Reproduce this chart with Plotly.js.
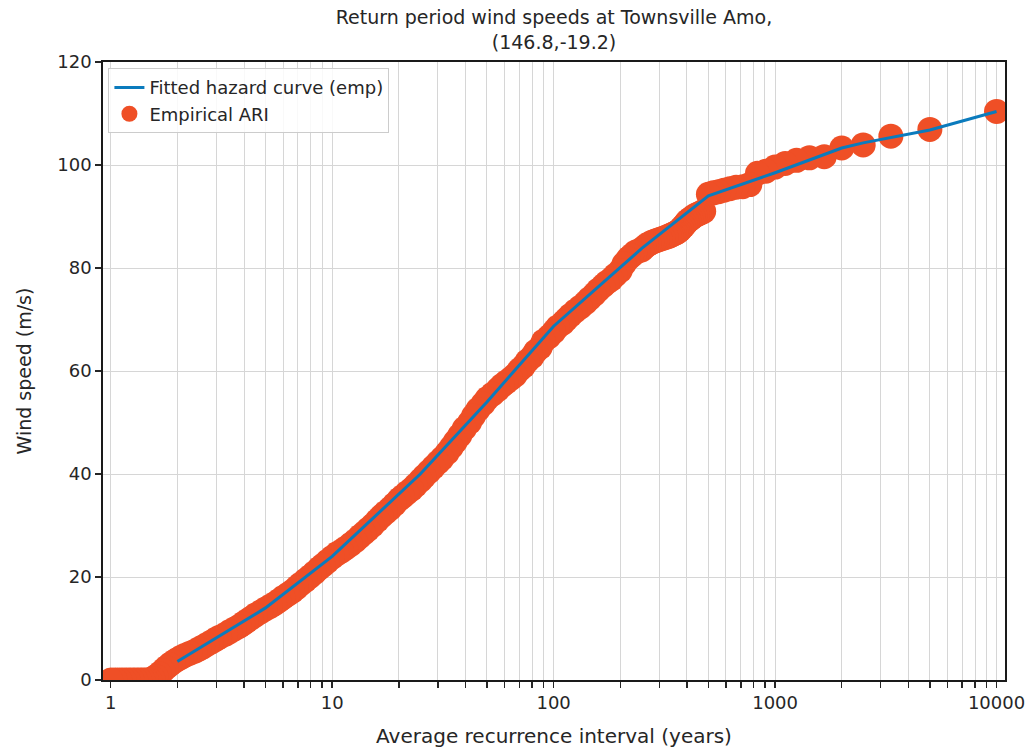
<!DOCTYPE html>
<html>
<head>
<meta charset="utf-8">
<script src="https://cdn.plot.ly/plotly-3.0.1.min.js"></script>
<style>html,body{margin:0;padding:0;background:#fff;}#chart{width:1035px;height:755px;}</style>
</head>
<body>
<div id="chart"></div>
<script>
// Fitted hazard curve (return period in years, wind speed m/s)
const fitARI = [2, 5, 10, 20, 25, 50, 100, 200, 250, 500, 1000, 2000, 2500, 5000, 10000];
const fitSpeed = [3.6, 14.0, 24.0, 36.0, 40.0, 54.0, 68.7, 80.1, 83.8, 94.0, 98.5, 103.3, 104.3, 106.8, 110.4];

// Empirical ARI points
const empARI = [10000, 5000, 3333, 2500, 2000, 1667, 1429, 1250, 1111, 1000, 909, 833, 769, 714, 667, 625, 588, 556, 526, 500,
  476, 465, 455, 445, 435, 426, 417, 408, 400, 392, 385, 377, 370, 363, 357, 351, 345, 339, 333, 323, 313, 303, 294, 286, 278,
  270, 263, 256, 250, 241, 233, 225, 217, 208, 200, 190, 182, 174, 167, 159, 152, 145, 139, 132, 125, 119, 114, 110, 104, 100,
  95, 90, 87, 83, 80, 76, 73, 70, 67, 64, 61, 58.5, 56, 53, 50, 48, 45.5, 43.5, 41.7, 39.5, 37.7, 36, 34.5, 33, 31.3, 30,
  28.6, 27.3, 26, 25, 23.8, 22.8, 21.7, 20.8, 20, 19.1, 18.2, 17.4, 16.7, 16, 15.2, 14.5, 13.9, 13.3, 12.7, 12.1, 11.5, 11,
  10.5, 10, 9.5, 9.1, 8.7, 8.3, 7.9, 7.55, 7.2, 6.9, 6.6, 6.3, 6.0, 5.75, 5.5, 5.25, 5.0, 4.75, 4.5, 4.3, 4.1, 3.95, 3.8,
  3.62, 3.45, 3.3, 3.1, 2.98, 2.85, 2.72, 2.6, 2.5, 2.4, 2.28, 2.17, 2.08, 2.0, 1.92, 1.85, 1.78, 1.72,
  1.66, 1.6, 1.55, 1.5, 1.45, 1.4, 1.35, 1.3, 1.25, 1.2, 1.15, 1.1, 1.05, 1.0];
const empSpeed = [110.4, 106.9, 105.6, 103.9, 103.3, 101.6, 101.4, 100.9, 100.3, 99.6, 98.8, 98.4, 96.2, 95.8, 95.7, 95.4, 95.1, 94.8, 94.6, 94.3,
  91.0, 90.8, 90.6, 90.4, 90.2, 89.9, 89.6, 89.3, 89.0, 88.5, 88.1, 87.7, 87.3, 87.0, 86.8, 86.7, 86.5, 86.4, 86.2, 86.0, 85.8, 85.6, 85.4, 85.2, 85.0,
  84.7, 84.4, 84.0, 83.5, 83.3, 83.0, 82.4, 81.8, 80.8, 79.5, 78.6, 77.8, 77.2, 76.5, 75.7, 74.8, 74.0, 73.2, 72.4, 71.6, 70.8, 70.0, 69.3, 68.5, 67.6,
  66.6, 65.8, 64.6, 63.8, 62.8, 61.9, 60.9, 60.2, 59.2, 58.5, 57.8, 57.2, 56.4, 55.5, 54.6, 53.6, 52.5, 51.3, 50.0, 48.8, 47.5, 46.3, 45.2, 44.1, 43.0, 42.2,
  41.3, 40.4, 39.5, 38.7, 37.8, 37.0, 36.3, 35.6, 35.0, 34.1, 33.2, 32.5, 31.8, 31.0, 30.0, 29.2, 28.5, 27.8, 27.0, 26.3, 25.6, 25.0,
  24.5, 23.8, 23.0, 22.3, 21.6, 20.8, 20.0, 19.3, 18.6, 17.9, 17.2, 16.6, 16.0, 15.4, 14.8, 14.3, 13.8, 13.2, 12.6, 12.0, 11.4, 10.9, 10.4,
  9.9, 9.4, 8.9, 8.3, 7.9, 7.4, 6.9, 6.4, 6.0, 5.6, 5.2, 4.8, 4.4, 4.0, 3.5, 3.0, 2.4, 1.8,
  1.2, 0.7, 0.3, 0, 0, 0, 0, 0, 0, 0, 0, 0, 0, 0];

// Axis ticks
const xMajor = [1, 10, 100, 1000, 10000];
const xMajorText = ['1', '10', '100', '1000', '10000'];
const yTicks = [0, 20, 40, 60, 80, 100, 120];

const tickVals = [];
const tickText = [];
xMajor.forEach((d, i) => {
  for (let m = 1; m <= 9; m++) {
    const v = d * m;
    if (v > 10000) break;
    tickVals.push(v);
    tickText.push(m === 1 ? xMajorText[i] : '');
  }
});

const font = "DejaVu Sans, Verdana, sans-serif";
const textColor = '#262626';

const traces = [
  {
    x: empARI, y: empSpeed, type: 'scatter', mode: 'markers', name: 'Empirical ARI',
    marker: {color: '#ef4f26', size: 25, line: {width: 0}}
  },
  {
    x: fitARI, y: fitSpeed, type: 'scatter', mode: 'lines', name: 'Fitted hazard curve (emp)',
    line: {color: '#0b7bbd', width: 3}
  }
];

const layout = {
  width: 1035, height: 755,
  paper_bgcolor: '#ffffff', plot_bgcolor: '#ffffff',
  margin: {l: 103, r: 30, t: 62, b: 75},
  font: {family: font, color: textColor, size: 18},
  title: {
    text: 'Return period wind speeds at Townsville Amo,<br>(146.8,-19.2)',
    font: {family: font, size: 19, color: textColor},
    x: 0.5, xanchor: 'center', xref: 'paper',
    y: 1, yref: 'paper', yanchor: 'bottom', pad: {b: 38}
  },
  showlegend: true,
  legend: {
    x: 0.006, y: 0.99, xanchor: 'left', yanchor: 'top',
    traceorder: 'reversed',
    bgcolor: 'rgba(255,255,255,0.85)', bordercolor: '#cccccc', borderwidth: 1,
    font: {family: font, size: 18, color: textColor}
  },
  xaxis: {
    type: 'log',
    range: [Math.log10(0.923), Math.log10(10920)],
    tickmode: 'array', tickvals: tickVals, ticktext: tickText,
    ticks: 'outside', ticklen: 6, tickwidth: 1.5, tickcolor: '#262626',
    showgrid: true, gridcolor: '#d6d6d6', gridwidth: 1,
    showline: true, mirror: true, linecolor: '#1a1a1a', linewidth: 1.8,
    zeroline: false,
    tickfont: {family: font, size: 18, color: textColor},
    title: {text: 'Average recurrence interval (years)', font: {family: font, size: 20, color: textColor}, standoff: 16}
  },
  yaxis: {
    range: [0, 120],
    tickmode: 'array', tickvals: yTicks,
    ticks: 'outside', ticklen: 6, tickwidth: 1.5, tickcolor: '#262626',
    showgrid: true, gridcolor: '#d6d6d6', gridwidth: 1,
    showline: true, mirror: true, linecolor: '#1a1a1a', linewidth: 1.8,
    zeroline: false,
    tickfont: {family: font, size: 18, color: textColor},
    title: {text: 'Wind speed (m/s)', font: {family: font, size: 19, color: textColor}, standoff: 20}
  }
};

Plotly.newPlot('chart', traces, layout, {displayModeBar: false, staticPlot: true});
</script>
</body>
</html>
